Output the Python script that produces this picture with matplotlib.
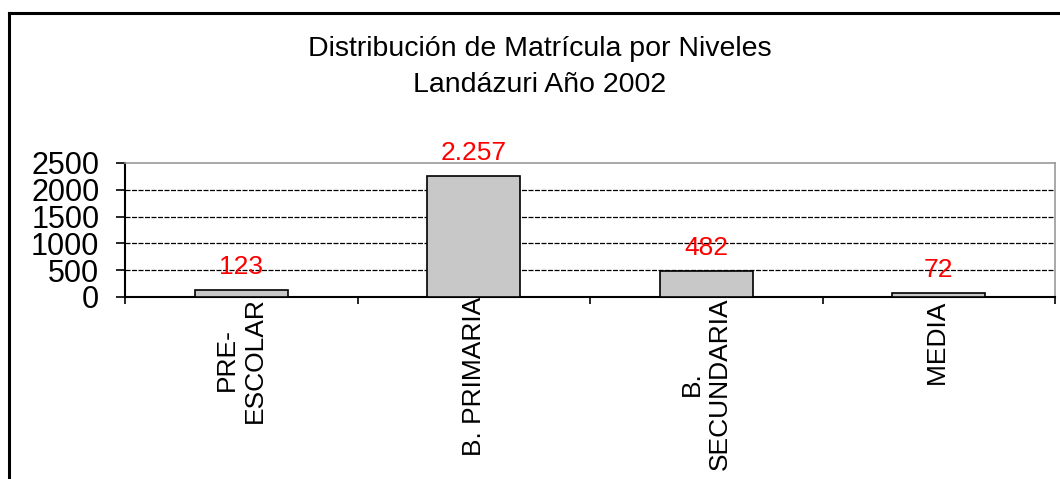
import matplotlib.pyplot as plt
from matplotlib.lines import Line2D
import numpy as np

# Matricula por niveles, Landazuri 2002
niveles = ["PRE-\nESCOLAR", "B. PRIMARIA", "B.\nSECUNDARIA", "MEDIA "]
matricula = [123, 2257, 482, 72]
y_ticks = [0, 500, 1000, 1500, 2000, 2500]

plt.rcParams["font.family"] = ["Liberation Sans", "DejaVu Sans"]

fig = plt.figure(figsize=(10.6, 4.79), dpi=100)
ax = fig.add_axes([125 / 1060, 1 - 297 / 479, 930 / 1060, 134 / 479])

x = np.arange(len(niveles))
ax.bar(x, matricula, width=0.4, color="#C8C8C8", edgecolor="black", linewidth=1.2, zorder=3)

for xi, v in zip(x, matricula):
    ax.annotate(f"{v:,}".replace(",", "."), (xi, v), xytext=(0, 8), textcoords="offset points",
                ha="center", va="bottom", color="#FF0000", fontsize=19, zorder=4)

ax.set_xlim(-0.5, len(niveles) - 0.5)
ax.set_ylim(0, 2500)
ax.set_yticks(y_ticks)
ax.tick_params(axis="y", labelsize=22, length=6.5, width=1.2, pad=12, direction="out")
for yv in y_ticks[1:-1]:
    ax.axhline(yv, color="black", linewidth=0.9, linestyle=(0, (4, 1.2)), zorder=1)

# ticks between categories, labels at category centres
ax.set_xticks(np.arange(-0.5, len(niveles), 1.0))
ax.set_xticklabels([])
ax.tick_params(axis="x", which="major", length=5, width=1.2, direction="out")
ax.set_xticks(x, minor=True)
ax.set_xticklabels(niveles, minor=True, rotation=90, fontsize=19, ha="center", va="top",
                   multialignment="center")
ax.tick_params(axis="x", which="minor", length=0, pad=0)

ax.spines["left"].set_linewidth(1.5)
ax.spines["bottom"].set_linewidth(1.5)
ax.spines["top"].set_color("#999999")
ax.spines["right"].set_color("#999999")
ax.spines["top"].set_linewidth(1.2)
ax.spines["right"].set_linewidth(1.2)

fig.text(540 / 1060, 1 - 67 / 479, "Distribución de Matrícula por Niveles\nLandázuri Año 2002",
         ha="center", va="center", fontsize=20.5, linespacing=1.5)

# chart border (left and top edges visible)
fig.add_artist(Line2D([9 / 1060, 9 / 1060], [0, 1 - 13 / 479], color="black", linewidth=2.2,
                      transform=fig.transFigure))
fig.add_artist(Line2D([9 / 1060, 1], [1 - 13 / 479, 1 - 13 / 479], color="black", linewidth=2.2,
                      transform=fig.transFigure))

fig.savefig("out.png", dpi=100)
